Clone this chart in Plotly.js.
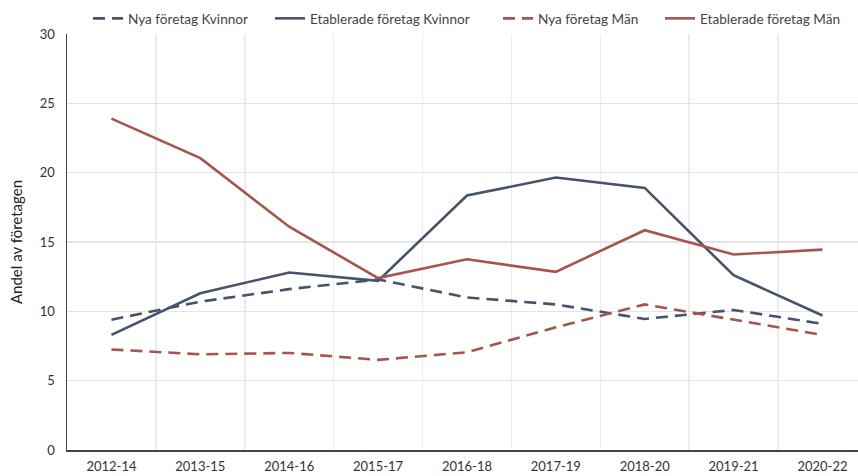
<!DOCTYPE html>
<html>
<head>
<meta charset="utf-8">
<script src="https://cdn.plot.ly/plotly-3.0.1.min.js"></script>
<style>
  html, body { margin: 0; padding: 0; background: #ffffff; }
  #chart { width: 858px; height: 476px; }
</style>
</head>
<body>
<div id="chart"></div>
<script>
const periods = ["2012-14", "2013-15", "2014-16", "2015-17", "2016-18", "2017-19", "2018-20", "2019-21", "2020-22"];
const nyaKvinnor = [9.4, 10.7, 11.6, 12.3, 11.0, 10.5, 9.45, 10.1, 9.1];
const etabKvinnor = [8.3, 11.3, 12.8, 12.2, 18.35, 19.65, 18.9, 12.6, 9.7];
const nyaMan = [7.25, 6.9, 7.0, 6.5, 7.05, 8.85, 10.5, 9.4, 8.3];
const etabMan = [23.9, 21.05, 16.1, 12.4, 13.75, 12.85, 15.85, 14.1, 14.45];
const seriesNames = ["Nya företag Kvinnor", "Etablerade företag Kvinnor", "Nya företag Män", "Etablerade företag Män"];

const navy = "#46536c";
const red = "#a7544f";
const dashPat = "12px,7px";

const legendIds = ["legend", "legend2", "legend3", "legend4"];
const legendLeftPx = [88, 270, 498, 660];

function tr(i, y, color, dash) {
  return {
    type: "scatter", mode: "lines", name: seriesNames[i],
    x: periods, y: y,
    legend: legendIds[i],
    line: { color: color, width: 2.6, dash: dash },
    hoverinfo: "x+y+name"
  };
}

const data = [
  tr(0, nyaKvinnor, navy, dashPat),
  tr(1, etabKvinnor, navy, "solid"),
  tr(2, nyaMan, red, dashPat),
  tr(3, etabMan, red, "solid")
];

const plotL = 67, plotW = 858 - 67;

const layout = {
  width: 858, height: 476,
  margin: { l: plotL, r: 0, t: 34, b: 26, pad: 0 },
  paper_bgcolor: "#ffffff", plot_bgcolor: "#ffffff",
  font: { family: "Lato, 'Open Sans', sans-serif", size: 13, color: "#333333" },
  showlegend: true,
  xaxis: {
    type: "category",
    range: [-0.5, 8.4],
    tickson: "boundaries",
    showgrid: true, gridcolor: "#ececec", gridwidth: 1.5,
    showline: true, linecolor: "#444444", linewidth: 1.5,
    ticks: "", ticklabelstandoff: 4,
    tickfont: { size: 13, color: "#333333" },
    zeroline: false, fixedrange: true, automargin: false
  },
  yaxis: {
    range: [0, 30], dtick: 5, tick0: 0,
    showgrid: true, gridcolor: "#e4e4e4", gridwidth: 1.3,
    showline: true, linecolor: "#444444", linewidth: 1.5,
    ticks: "", ticklabelstandoff: 8,
    tickfont: { size: 13, color: "#333333" },
    zeroline: false, fixedrange: true, automargin: false,
    title: { text: "Andel av företagen", font: { size: 15, color: "#222222" }, standoff: 13 }
  }
};

legendIds.forEach(function (id, i) {
  layout[id] = {
    orientation: "h",
    x: (legendLeftPx[i] - plotL) / plotW, xanchor: "left",
    y: 1.0, yanchor: "bottom",
    font: { size: 13.6, color: "#444444" },
    bgcolor: "rgba(0,0,0,0)"
  };
});

Plotly.newPlot("chart", data, layout, { displayModeBar: false, staticPlot: true });
</script>
</body>
</html>
